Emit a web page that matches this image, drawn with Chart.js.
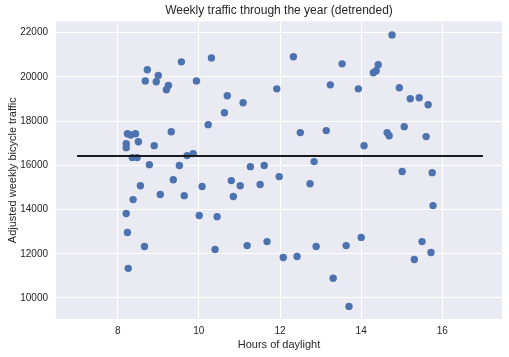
<!DOCTYPE html>
<html>
<head>
<meta charset="utf-8">
<script src="https://cdn.jsdelivr.net/npm/chart.js@4"></script>
<style>
html,body{margin:0;padding:0;background:#fff;}
#wrap{width:509px;height:357px;}
</style>
</head>
<body>
<div id="wrap"><canvas id="c" width="509" height="357"></canvas></div>
<script>
const hoursDaylight = [8.73,9.57,10.31,8.68,9.00,8.95,9.25,9.20,9.94,11.92,10.70,11.09,10.63,10.23,9.32,8.24,8.32,8.44,8.51,8.21,8.21,8.90,8.36,8.48,9.71,9.86,8.78,9.52,11.27,11.61,11.98,8.56,9.37,10.08,10.80,11.02,11.51,9.05,9.64,10.85,8.38,8.21,10.01,10.45,8.24,8.66,10.40,11.19,11.68,8.26,14.76,12.33,13.53,14.42,14.37,14.30,13.24,13.93,14.94,15.21,15.43,15.65,12.50,13.14,14.64,14.69,15.06,15.60,14.07,12.84,15.01,15.75,12.74,15.77,12.08,12.42,12.89,13.63,14.00,15.50,15.31,15.72,13.31,13.70];
const adjustedTraffic = [20320,20680,20860,19820,20060,19780,19610,19420,19820,19460,19150,18830,18380,17840,17520,17430,17370,17430,17070,16980,16800,16890,16350,16350,16440,16530,16030,15990,15940,15990,15490,15080,15350,15040,15310,15080,15130,14680,14630,14590,14450,13820,13730,13680,12960,12330,12190,12370,12550,11340,21900,20910,20590,20550,20280,20190,19640,19460,19510,19010,19060,18740,17480,17570,17480,17340,17750,17300,16890,16170,15720,15670,15170,14180,11830,11880,12330,12370,12740,12550,11740,12060,10890,9620];
const meanLineX = [7, 17];
const meanLineY = 16420;
const xTicks = [8, 10, 12, 14, 16];
const yTicks = [10000, 12000, 14000, 16000, 18000, 20000, 22000];

const points = hoursDaylight.map((x, i) => ({x: x, y: adjustedTraffic[i]}));
const linePts = meanLineX.map(x => ({x: x, y: meanLineY}));

const bgPlugin = {
  id: 'bg',
  beforeDraw(chart) {
    const {ctx, chartArea: a} = chart;
    ctx.save();
    ctx.fillStyle = '#EAEAF2';
    ctx.fillRect(a.left, a.top, a.right - a.left, a.bottom - a.top);
    ctx.restore();
  }
};

const FONT = "'Liberation Sans', Arial, sans-serif";
const TXT = '#262626';

new Chart(document.getElementById('c'), {
  type: 'scatter',
  data: {
    datasets: [
      {
        type: 'line',
        data: linePts,
        borderColor: '#1a1a1a',
        borderWidth: 2,
        pointRadius: 0,
        fill: false,
        order: 0
      },
      {
        data: points,
        backgroundColor: '#4C72B0',
        borderWidth: 0,
        pointRadius: 3.7,
        order: 1
      }
    ]
  },
  options: {
    responsive: false,
    animation: false,
    devicePixelRatio: 1,
    layout: {padding: {left: 0, right: 7, top: 0, bottom: 0}},
    plugins: {
      legend: {display: false},
      tooltip: {enabled: false},
      title: {
        display: true,
        fullSize: false,
        text: 'Weekly traffic through the year (detrended)',
        color: TXT,
        font: {family: FONT, size: 12, weight: 'normal'},
        padding: {top: 3, bottom: 4}
      }
    },
    scales: {
      x: {
        type: 'linear',
        min: 6.48,
        max: 17.47,
        afterBuildTicks(s) { s.ticks = xTicks.map(v => ({value: v})); },
        afterFit(s) { s.height = 38; },
        border: {display: false},
        grid: {color: '#ffffff', lineWidth: 1, drawTicks: false},
        ticks: {color: TXT, font: {family: FONT, size: 10}, padding: 6},
        title: {display: true, text: 'Hours of daylight', color: TXT,
                font: {family: FONT, size: 11}, padding: {top: 5, bottom: 5}}
      },
      y: {
        type: 'linear',
        min: 9050,
        max: 22510,
        afterBuildTicks(s) { s.ticks = yTicks.map(v => ({value: v})); },
        afterFit(s) { s.width = 56; },
        border: {display: false},
        grid: {color: '#ffffff', lineWidth: 1, drawTicks: false},
        ticks: {color: TXT, font: {family: FONT, size: 10}, padding: 8,
                callback: v => String(v)},
        title: {display: true, text: 'Adjusted weekly bicycle traffic', color: TXT,
                font: {family: FONT, size: 11}, padding: {top: 6, bottom: 6}}
      }
    }
  },
  plugins: [bgPlugin]
});
</script>
</body>
</html>
